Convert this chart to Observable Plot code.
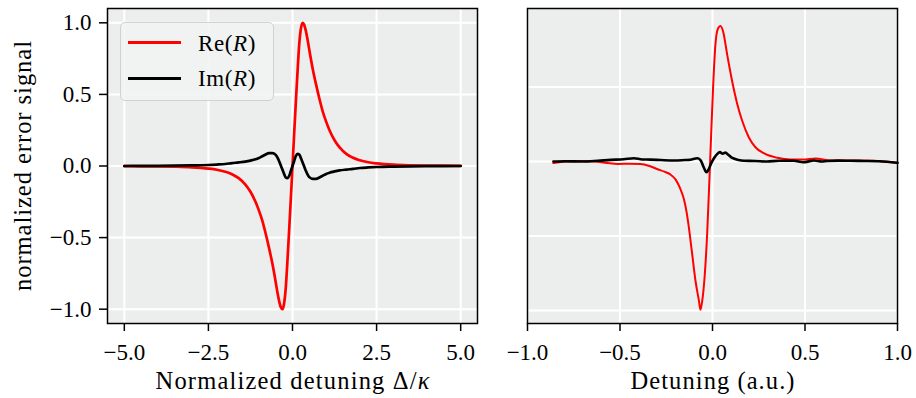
<!DOCTYPE html>
<html>
<head>
<meta charset="utf-8">
<script src="https://cdn.jsdelivr.net/npm/d3@7"></script>
<script src="https://cdn.jsdelivr.net/npm/@observablehq/plot@0.6"></script>
<style>
  html, body { margin: 0; padding: 0; background: #ffffff; }
  #fig { position: relative; width: 916px; height: 398px; font-family: "Liberation Serif", serif; overflow: hidden; }
  #fig svg, #fig svg text { font-family: "Liberation Serif", "Times New Roman", serif !important; font-size: 23px; }
  #fig svg text.axlabel { font-size: 24.5px; }
  #left, #right { position: absolute; top: 0; }
  #left { left: 0; }
  #right { left: 480px; }
  .legend { position: absolute; left: 120px; top: 22px; width: 154px; height: 79px; box-sizing: border-box;
            border: 1px solid #d0d2d1; border-radius: 5px; background: rgba(241,243,242,0.85); }
  .legend .sw { position: absolute; left: 7px; width: 53px; height: 0; border-top: 3px solid; }
  .legend .lb { position: absolute; left: 77px; font-size: 23px; line-height: 1; color: #000; white-space: nowrap; letter-spacing: 0.6px; }
</style>
</head>
<body>
<div id="fig">
  <div id="left"></div>
  <div id="right"></div>
  <div class="legend">
    <div class="sw" style="top:18px;border-color:#ff0000;"></div>
    <div class="lb" style="top:9px;">Re(<i>R</i>)</div>
    <div class="sw" style="top:54px;border-color:#000000;"></div>
    <div class="lb" style="top:44px;">Im(<i>R</i>)</div>
  </div>
</div>
<script>
// ---------- data: left panel (theory) ----------
const leftX = [-5, -4.5, -4, -3.5, -3, -2.5, -2.25, -2, -1.8, -1.6, -1.4, -1.25, -1.1, -1, -0.9, -0.8, -0.7, -0.6, -0.5, -0.45, -0.4, -0.35, -0.3, -0.25, -0.2, -0.15, -0.1, -0.05,
  0,
  0.05, 0.1, 0.15, 0.2, 0.25, 0.3, 0.35, 0.4, 0.45, 0.5, 0.6, 0.7, 0.8, 0.9, 1, 1.1, 1.25, 1.4, 1.6, 1.8, 2, 2.25, 2.5, 3, 3.5, 4, 4.5, 5];
const leftRe = [-0.001, -0.002, -0.003, -0.005, -0.009, -0.018, -0.026, -0.04, -0.057, -0.085, -0.13, -0.18, -0.25, -0.31, -0.38, -0.47, -0.57, -0.68, -0.81, -0.88, -0.94, -0.985, -1.0, -0.96, -0.85, -0.66, -0.45, -0.23,
  0,
  0.23, 0.45, 0.66, 0.85, 0.96, 1.0, 0.985, 0.94, 0.88, 0.81, 0.68, 0.57, 0.47, 0.38, 0.31, 0.25, 0.18, 0.13, 0.085, 0.057, 0.04, 0.026, 0.018, 0.009, 0.005, 0.003, 0.002, 0.001];
const leftIm = [0, 0.0005, 0.001, 0.002, 0.004, 0.007, 0.01, 0.014, 0.02, 0.025, 0.031, 0.038, 0.047, 0.056, 0.068, 0.08, 0.09, 0.09, 0.078, 0.06, 0.035, 0.005, -0.025, -0.055, -0.08, -0.085, -0.07, -0.035,
  0,
  0.035, 0.07, 0.085, 0.08, 0.055, 0.025, -0.005, -0.035, -0.06, -0.078, -0.09, -0.09, -0.08, -0.068, -0.056, -0.047, -0.038, -0.031, -0.025, -0.02, -0.014, -0.01, -0.007, -0.004, -0.002, -0.001, -0.0005, 0];

// ---------- data: right panel (measurement) ----------
const rightReX = [-0.86, -0.79, -0.7, -0.64, -0.57, -0.51, -0.45, -0.39, -0.34, -0.30, -0.26, -0.23, -0.2, -0.175, -0.155, -0.14, -0.128, -0.11, -0.092, -0.074, -0.065, -0.056, -0.043, -0.029, -0.016, -0.007, 0.004, 0.016, 0.029, 0.043, 0.058, 0.079, 0.106, 0.133, 0.16, 0.196, 0.232, 0.277, 0.35, 0.42, 0.49, 0.557, 0.638, 0.746, 0.87, 1.0];
const rightRe = [-0.01, 0.0, 0.003, 0.0, -0.01, -0.016, -0.015, -0.016, -0.03, -0.05, -0.068, -0.085, -0.12, -0.18, -0.25, -0.34, -0.44, -0.62, -0.80, -0.93, -0.995, -0.94, -0.78, -0.49, -0.1, 0.19, 0.52, 0.79, 0.89, 0.91, 0.87, 0.72, 0.54, 0.39, 0.275, 0.163, 0.096, 0.056, 0.025, 0.013, 0.013, 0.02, 0.007, 0.007, 0.005, -0.01];
const rightImX = [-0.86, -0.8, -0.7, -0.62, -0.55, -0.48, -0.425, -0.38, -0.335, -0.28, -0.21, -0.15, -0.12, -0.083, -0.065, -0.047, -0.032, -0.02, -0.008, 0.007, 0.025, 0.04, 0.055, 0.07, 0.085, 0.1, 0.115, 0.14, 0.17, 0.23, 0.295, 0.36, 0.44, 0.49, 0.55, 0.59, 0.62, 0.68, 0.746, 0.82, 0.9, 1.0];
const rightIm = [0.0, 0.002, 0.0, 0.005, 0.011, 0.015, 0.022, 0.014, 0.013, 0.01, 0.007, 0.01, 0.012, 0.022, 0.01, -0.04, -0.072, -0.05, -0.015, 0.02, 0.05, 0.063, 0.052, 0.06, 0.045, 0.03, 0.02, 0.01, 0.005, 0.004, 0.0, 0.005, 0.005, -0.005, 0.007, 0.0, 0.004, 0.006, 0.005, 0.004, 0.002, -0.008];

// ---------- ticks ----------
const leftXTicks = [-5, -2.5, 0, 2.5, 5];
const leftYTicks = [-1, -0.5, 0, 0.5, 1];
const rightXTicks = [-1, -0.5, 0, 0.5, 1];
const rightYGrid = [-1, -0.5, 0, 0.5];

// ---------- labels ----------
const leftXLabel = "Normalized detuning Δ/κ";
const rightXLabel = "Detuning (a.u.)";
const yLabel = "normalized error signal";

const FONT = "Liberation Serif, serif";
const FACE = "#eceeed";
const RED = "#ff0000";
const fmt = d3.format(".1f");
const baseStyle = {fontFamily: FONT, fontSize: "23px", color: "#000", background: "transparent", overflow: "visible"};

const left = Plot.plot({
  width: 480, height: 398,
  marginLeft: 107, marginRight: 3, marginTop: 8, marginBottom: 75,
  style: baseStyle,
  x: {domain: [-5.5, 5.5]},
  y: {domain: [-1.1, 1.1]},
  marks: [
    Plot.frame({fill: FACE, stroke: null}),
    Plot.gridX(leftXTicks, {stroke: "white", strokeOpacity: 1, strokeWidth: 2}),
    Plot.gridY(leftYTicks, {stroke: "white", strokeOpacity: 1, strokeWidth: 2}),
    Plot.line(leftX, {x: leftX, y: leftRe, stroke: RED, strokeWidth: 2.7, curve: "monotone-x"}),
    Plot.line(leftX, {x: leftX, y: leftIm, stroke: "#000", strokeWidth: 2.7, curve: "monotone-x"}),
    Plot.frame({stroke: "#000", strokeWidth: 1.5}),
    Plot.axisX(leftXTicks, {tickSize: 8, tickPadding: 12, tickFormat: fmt, strokeWidth: 1.5,
      label: leftXLabel, labelAnchor: "center", labelArrow: false, labelOffset: 65}),
    Plot.axisY(leftYTicks, {tickSize: 8, tickPadding: 8, tickFormat: fmt, strokeWidth: 1.5,
      label: yLabel, labelAnchor: "center", labelArrow: false, labelOffset: 94})
  ]
});

const right = Plot.plot({
  width: 436, height: 398,
  marginLeft: 47, marginRight: 19, marginTop: 8, marginBottom: 75,
  style: baseStyle,
  x: {domain: [-1, 1]},
  y: {domain: [-1.087, 1.027], axis: null},
  marks: [
    Plot.frame({fill: FACE, stroke: null}),
    Plot.gridX(rightXTicks, {stroke: "white", strokeOpacity: 1, strokeWidth: 2}),
    Plot.gridY(rightYGrid, {stroke: "white", strokeOpacity: 1, strokeWidth: 2}),
    Plot.line(rightReX, {x: rightReX, y: rightRe, stroke: RED, strokeWidth: 2, curve: "monotone-x"}),
    Plot.line(rightImX, {x: rightImX, y: rightIm, stroke: "#000", strokeWidth: 2.6, curve: "monotone-x"}),
    Plot.frame({stroke: "#000", strokeWidth: 1.5}),
    Plot.axisX(rightXTicks, {tickSize: 8, tickPadding: 12, tickFormat: fmt, strokeWidth: 1.5,
      label: rightXLabel, labelAnchor: "center", labelArrow: false, labelOffset: 65})
  ]
});

document.getElementById("left").appendChild(left);
document.getElementById("right").appendChild(right);

// widen labels to the reference's (wider Computer Modern) text extents, italic kappa
function stretch(svg, content, len) {
  svg.querySelectorAll("text").forEach(t => {
    if (t.textContent === content) {
      t.classList.add("axlabel");
      t.setAttribute("textLength", len);
      t.setAttribute("lengthAdjust", "spacing");
      if (content === leftXLabel) {
        t.textContent = "Normalized detuning Δ/";
        const ts = document.createElementNS("http://www.w3.org/2000/svg", "tspan");
        ts.setAttribute("font-style", "italic");
        ts.textContent = "κ";
        t.appendChild(ts);
      }
    }
  });
}
stretch(left, leftXLabel, 274);
stretch(left, yLabel, 250);
stretch(right, rightXLabel, 164);
</script>
</body>
</html>
